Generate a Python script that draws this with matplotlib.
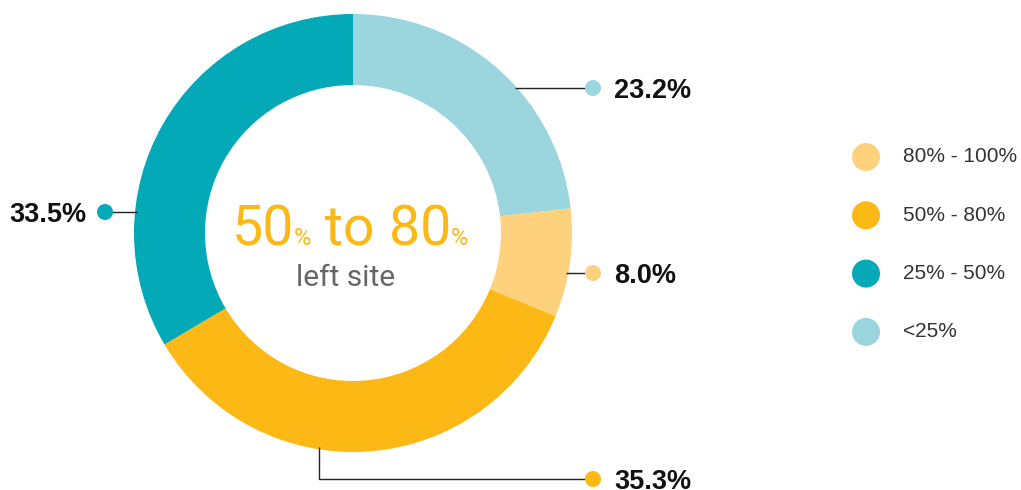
import matplotlib
matplotlib.use("Agg")
import matplotlib.pyplot as plt
from matplotlib.patches import Circle
import numpy as np

# ---- data ----
categories = ["<25%", "80% - 100%", "50% - 80%", "25% - 50%"]
shares = [23.2, 8.0, 35.3, 33.5]
share_labels = ["23.2%", "8.0%", "35.3%", "33.5%"]
legend_order = ["80% - 100%", "50% - 80%", "25% - 50%", "<25%"]
center_big = ["50", "%", " to ", "80", "%"]
center_sub = "left site"

colors = {"<25%": "#9BD5DD", "80% - 100%": "#FED27C",
          "50% - 80%": "#FCB814", "25% - 50%": "#03A9B6"}

W, H = 1021, 490
fig = plt.figure(figsize=(W / 100, H / 100), dpi=100)
ax = fig.add_axes([0, 0, 1, 1])

def Y(y):  # pixel-from-top to data y
    return H - y

cx, cy, R, ring = 353, 233, 219, 71
ax.pie(shares, colors=[colors[c] for c in categories], startangle=90,
       counterclock=False, radius=R, center=(cx, Y(cy)),
       wedgeprops=dict(width=ring, edgecolor="none", linewidth=0))
ax.set_xlim(0, W)
ax.set_ylim(0, H)
ax.set_aspect("equal")
ax.axis("off")

lab_font = "Liberation Sans"
center_font = ["Roboto", "Liberation Sans"]
line_kw = dict(color="#222222", lw=1.0, zorder=1, solid_capstyle="butt")

def edge_x(y, side):
    return cx + side * np.sqrt(R**2 - (y - cy) ** 2)

# leader layout: (y of line, dot x, side of ring, text x, ha)
layout = {
    "23.2%": dict(y=88, dot=593, side=1, tx=614, ha="left"),
    "8.0%": dict(y=273, dot=593, side=1, tx=614, ha="left"),
    "33.5%": dict(y=212, dot=105, side=-1, tx=86, ha="right"),
}
for cat, lab in zip(categories, share_labels):
    col = colors[cat]
    if lab in layout:
        L = layout[lab]
        x0 = edge_x(L["y"], L["side"]) - L["side"] * 2
        ax.plot([x0, L["dot"]], [Y(L["y"]), Y(L["y"])], **line_kw)
        ax.add_patch(Circle((L["dot"], Y(L["y"])), 8, color=col, zorder=3, lw=0))
        ax.text(L["tx"], Y(L["y"]), lab, ha=L["ha"], va="center_baseline",
                fontsize=19.5, fontweight="bold", family=lab_font, color="#111111")
    else:
        vx, hy, dot = 319, 479, 593
        ytop = cy + np.sqrt(R**2 - (vx - cx) ** 2) - 2
        ax.plot([vx, vx, dot], [Y(ytop), Y(hy), Y(hy)], **line_kw)
        ax.add_patch(Circle((dot, Y(hy)), 8, color=col, zorder=3, lw=0))
        ax.text(614, Y(hy), lab, ha="left", va="center_baseline",
                fontsize=19.5, fontweight="bold", family=lab_font, color="#111111")

# legend
for i, cat in enumerate(legend_order):
    ly = 157 + i * 58.3
    ax.add_patch(Circle((866, Y(ly)), 14, color=colors[cat], lw=0, zorder=3))
    ax.text(903, Y(ly), cat, ha="left", va="center", fontsize=15,
            family=lab_font, color="#333333")

# center text, chained
renderer = fig.canvas.get_renderer()
sizes = [40, 17, 40, 40, 17]
texts = []
for s, fs in zip(center_big, sizes):
    t = ax.text(0, Y(245), s, ha="left", va="baseline", fontsize=fs,
                family=center_font, color="#FCB814")
    texts.append(t)
widths = [t.get_window_extent(renderer).width for t in texts]
total = sum(widths)
x = 350 - total / 2
for t, w in zip(texts, widths):
    t.set_x(x)
    x += w
ax.text(346, Y(286), center_sub, ha="center", va="baseline", fontsize=21.5,
        family=center_font, color="#666666")

fig.savefig("out.png", dpi=100)
